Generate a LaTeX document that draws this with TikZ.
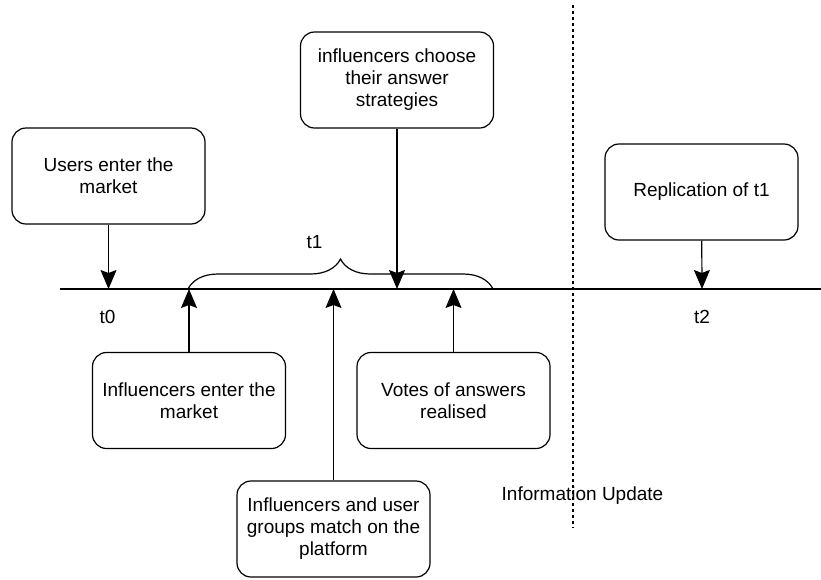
\documentclass[tikz,border=0pt]{standalone}
\usepackage{fontspec}
\setmainfont{Liberation Sans}
\usetikzlibrary{
    arrows.meta,
    decorations.pathreplacing
}

\tikzset{
    stagebox/.style={draw, line width=1.2pt, rectangle, rounded corners=14pt, align=center, minimum width=193pt, minimum height=96pt, inner sep=0pt, font=\fontsize{19}{22}\selectfont},
    timelabel/.style={inner sep=0pt, font=\fontsize{19}{22}\selectfont},
    timearrow/.style={line width=1.2pt, arrows={-Stealth[length=19pt, width=16pt, inset=3pt]}}
}

\begin{document}
\begin{tikzpicture}[x=1pt, y=-1pt]
            \useasboundingbox (0,0) rectangle (821,579);

            \coordinate (linestart) at (60, 289);
            \coordinate (lineend) at (821, 289);
            \coordinate (bracestart) at (188, 289);
            \coordinate (braceend) at (493, 289);
            \coordinate (dottop) at (573, 5);
            \coordinate (dotbottom) at (573, 528);

            \coordinate (hitusers) at (108.5, 289);
            \coordinate (hitchoose) at (397, 289);
            \coordinate (hitrepl) at (702, 289);
            \coordinate (hitenter) at (189, 289);
            \coordinate (hitmatch) at (333.5, 289);
            \coordinate (hitvotes) at (453.5, 289);

            \node[stagebox] (users) at (108.5, 176) {Users enter the\\market};
            \node[stagebox] (choose) at (397, 80) {influencers choose\\their answer\\strategies};
            \node[stagebox] (repl) at (701.5, 192) {Replication of t1};
            \node[stagebox] (enter) at (189, 400.5) {Influencers enter the\\market};
            \node[stagebox] (votes) at (453.5, 400.5) {Votes of answers\\realised};
            \node[stagebox] (match) at (333.5, 529) {Influencers and user\\groups match on the\\platform};

            \draw[line width=1.2pt] (linestart)--(lineend);
            \draw[line width=1.2pt, decorate, decoration={brace, amplitude=30pt}] (bracestart)--(braceend);
            \draw[line width=1.2pt, dash pattern=on 3pt off 3pt] (dottop)--(dotbottom);

            \draw[timearrow] (users)--(hitusers);
            \draw[timearrow] (choose)--(hitchoose);
            \draw[timearrow] (repl)--(hitrepl);
            \draw[timearrow] (enter)--(hitenter);
            \draw[timearrow] (match)--(hitmatch);
            \draw[timearrow] (votes)--(hitvotes);

            \node[timelabel] (t0) at (107.5, 317) {t0};
            \node[timelabel] (t1) at (314.5, 242) {t1};
            \node[timelabel] (t2) at (702, 317) {t2};
            \node[timelabel] (update) at (582.5, 496) {Information Update};
        \end{tikzpicture}
\end{document}
